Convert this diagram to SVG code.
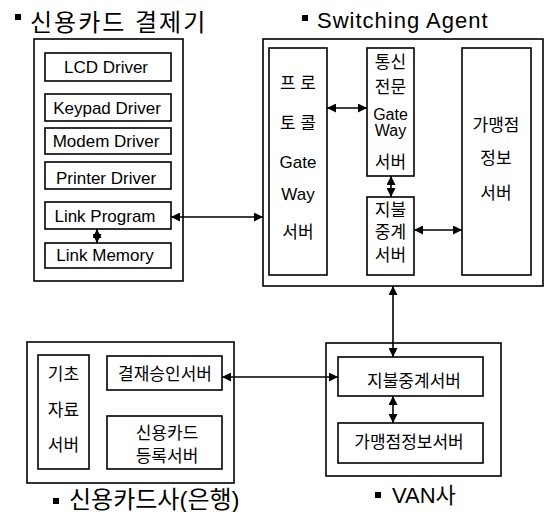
<svg xmlns="http://www.w3.org/2000/svg" width="546" height="512" viewBox="0 0 546 512">
<style>
.box{fill:#fff;stroke:#000;stroke-width:1.6}
.t{font-family:"Liberation Sans","Noto Sans CJK KR",sans-serif;fill:#000;text-anchor:middle}
.en{font-size:17px}
.ko{font-size:17px}
.sm{font-size:16px}
.title{font-family:"Liberation Sans","Noto Sans CJK KR",sans-serif;fill:#000}
.c{stroke:#000;stroke-width:1.6;fill:none;marker-start:url(#ah);marker-end:url(#ah)}
</style>
<defs>
<marker id="ah" markerUnits="userSpaceOnUse" markerWidth="9" markerHeight="9" refX="9" refY="4.5" orient="auto-start-reverse">
<path d="M0,0 L9,4.5 L0,9 z" fill="#000"/>
</marker>
</defs>
<rect width="546" height="512" fill="#fff"/>

<g id="terminal">
<rect class="box" x="34" y="39" width="149" height="242"/>
<rect x="15" y="14" width="6" height="6" fill="#000"/>
<text class="title" x="30" y="31" font-size="24" letter-spacing="2">신용카드 결제기</text>
</g>
<g id="lcd"><rect class="box" x="45" y="53" width="126" height="28"/><text class="t en" x="106" y="73">LCD Driver</text></g>
<g id="keypad"><rect class="box" x="45" y="94" width="126" height="27"/><text class="t en" x="107" y="114">Keypad Driver</text></g>
<g id="modem"><rect class="box" x="45" y="128" width="126" height="26"/><text class="t en" x="106" y="147">Modem Driver</text></g>
<g id="printer"><rect class="box" x="45" y="162" width="126" height="27"/><text class="t en" x="106" y="184">Printer Driver</text></g>
<g id="linkprog"><rect class="box" x="45" y="202" width="126" height="27"/><text class="t en" x="105" y="222">Link Program</text></g>
<g id="linkmem"><rect class="box" x="45" y="243" width="126" height="25"/><text class="t en" x="105" y="261">Link Memory</text></g>

<g id="switching">
<rect class="box" x="263" y="39" width="280" height="247"/>
<rect x="302" y="15" width="6" height="6" fill="#000"/>
<text class="title" x="317" y="28" font-size="22" letter-spacing="1">Switching Agent</text>
</g>
<g id="protocol">
<rect class="box" x="269" y="48" width="58" height="227"/>
<text class="t ko" x="298" y="89">프 로</text>
<text class="t ko" x="298" y="129">토 콜</text>
<text class="t en" x="298" y="168">Gate</text>
<text class="t en" x="298" y="200">Way</text>
<text class="t ko" x="298" y="238">서버</text>
</g>
<g id="comm">
<rect class="box" x="367" y="48" width="47" height="128"/>
<text class="t ko" x="390.5" y="68">통신</text>
<text class="t ko" x="390.5" y="93">전문</text>
<text class="t sm" x="390.5" y="120">Gate</text>
<text class="t sm" x="390.5" y="136">Way</text>
<text class="t ko" x="390.5" y="168">서버</text>
</g>
<g id="payrelay">
<rect class="box" x="367" y="197" width="47" height="78"/>
<text class="t ko" x="390.5" y="216">지불</text>
<text class="t ko" x="390.5" y="238">중계</text>
<text class="t ko" x="390.5" y="261">서버</text>
</g>
<g id="merchant">
<rect class="box" x="462" y="48" width="69" height="227"/>
<text class="t ko" x="496" y="131">가맹점</text>
<text class="t ko" x="496" y="164">정보</text>
<text class="t ko" x="496" y="199">서버</text>
</g>

<g id="cardco">
<rect class="box" x="27" y="342" width="207" height="141"/>
<rect x="53" y="498" width="6" height="6" fill="#000"/>
<text class="title" x="69" y="508" font-size="24">신용카드사(은행)</text>
</g>
<g id="basedata">
<rect class="box" x="38" y="355" width="51" height="114"/>
<text class="t ko" x="63.5" y="380">기초</text>
<text class="t ko" x="63.5" y="416">자료</text>
<text class="t ko" x="63.5" y="451">서버</text>
</g>
<g id="approval"><rect class="box" x="107" y="356" width="115" height="34"/><text class="t ko" x="165" y="380">결재승인서버</text></g>
<g id="cardreg">
<rect class="box" x="107" y="416" width="115" height="53"/>
<text class="t ko" x="167" y="439">신용카드</text>
<text class="t ko" x="167" y="462">등록서버</text>
</g>

<g id="van">
<rect class="box" x="326" y="343" width="175" height="133"/>
<rect x="375" y="492" width="6" height="6" fill="#000"/>
<text class="title" x="392" y="503" font-size="22">VAN사</text>
</g>
<g id="vanpay"><rect class="box" x="338" y="357" width="145" height="39"/><text class="t ko" x="414" y="387">지불중계서버</text></g>
<g id="vanmerchant"><rect class="box" x="338" y="423" width="145" height="40"/><text class="t ko" x="409" y="448">가맹점정보서버</text></g>

<g id="connectors">
<line class="c" x1="171" y1="217" x2="263" y2="217"/>
<line class="c" x1="97" y1="229" x2="97" y2="243"/>
<line class="c" x1="327" y1="108" x2="367" y2="108"/>
<line class="c" x1="391" y1="176" x2="391" y2="197"/>
<line class="c" x1="414" y1="230" x2="462" y2="230"/>
<line class="c" x1="393" y1="286" x2="393" y2="357"/>
<line class="c" x1="222" y1="377" x2="338" y2="377"/>
<line class="c" x1="393" y1="396" x2="393" y2="423"/>
</g>
</svg>
